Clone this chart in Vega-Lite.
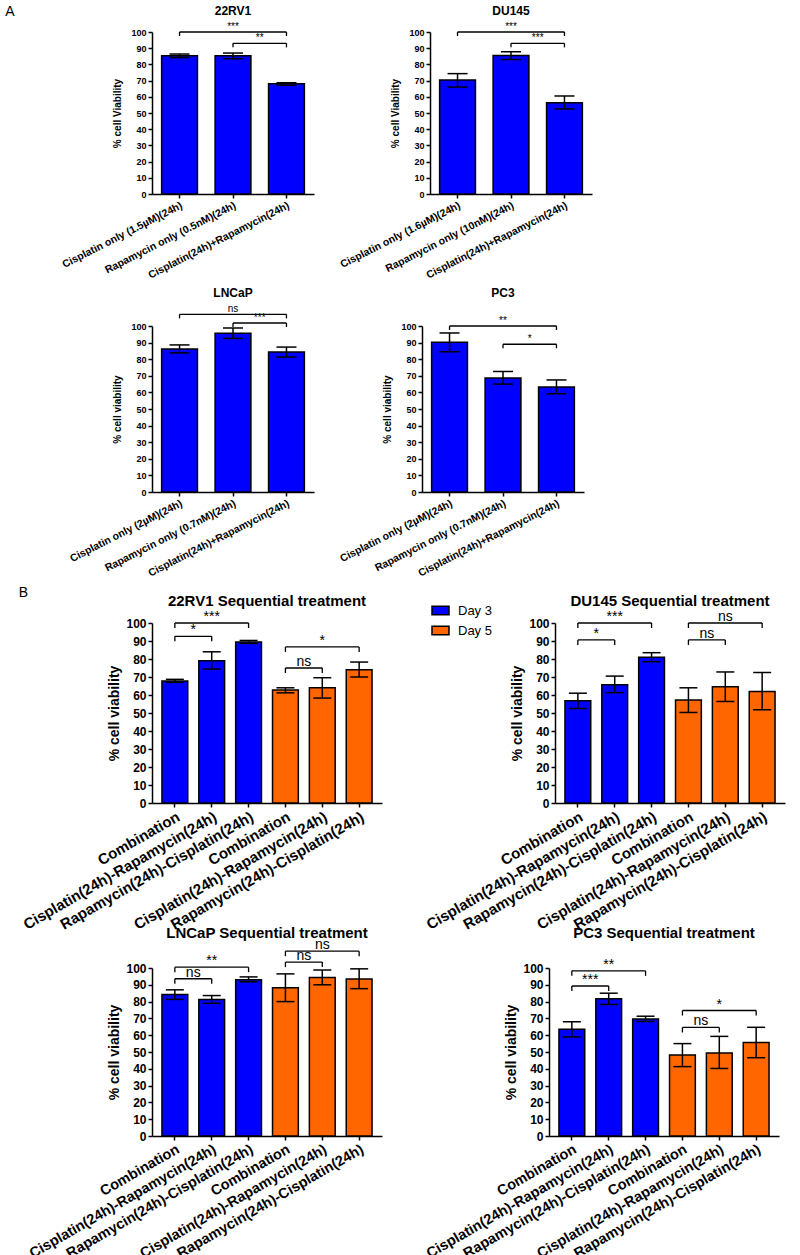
{
"$schema": "https://vega.github.io/schema/vega-lite/v6.json",
"background": "white",
"padding": {"left": 5, "top": 5, "right": 5, "bottom": 5},
"spacing": 7,
"datasets": {
"A1": [
{"kind":"bar","panel":"22RV1","day":"Day 3","cond":"1|Cisplatin only (1.5µM)(24h)","mean":85.3,"lo":84.2,"hi":86.4},
{"kind":"bar","panel":"22RV1","day":"Day 3","cond":"2|Rapamycin only (0.5nM)(24h)","mean":85.3,"lo":83.5,"hi":87},
{"kind":"bar","panel":"22RV1","day":"Day 3","cond":"3|Cisplatin(24h)+Rapamycin(24h)","mean":68,"lo":67.2,"hi":68.7},
{"kind":"sig","panel":"22RV1","from":"1|Cisplatin only (1.5µM)(24h)","to":"3|Cisplatin(24h)+Rapamycin(24h)","mid":"2|Rapamycin only (0.5nM)(24h)","y":100,"label":"***","span":2},
{"kind":"sig","panel":"22RV1","from":"2|Rapamycin only (0.5nM)(24h)","to":"3|Cisplatin(24h)+Rapamycin(24h)","y":93,"label":"**","span":1},
{"kind":"bar","panel":"DU145","day":"Day 3","cond":"1|Cisplatin only (1.6µM)(24h)","mean":70.4,"lo":66,"hi":74.3},
{"kind":"bar","panel":"DU145","day":"Day 3","cond":"2|Rapamycin only (10nM)(24h)","mean":85.5,"lo":83,"hi":87.8},
{"kind":"bar","panel":"DU145","day":"Day 3","cond":"3|Cisplatin(24h)+Rapamycin(24h)","mean":56.3,"lo":52.5,"hi":60.5},
{"kind":"sig","panel":"DU145","from":"1|Cisplatin only (1.6µM)(24h)","to":"3|Cisplatin(24h)+Rapamycin(24h)","mid":"2|Rapamycin only (10nM)(24h)","y":100,"label":"***","span":2},
{"kind":"sig","panel":"DU145","from":"2|Rapamycin only (10nM)(24h)","to":"3|Cisplatin(24h)+Rapamycin(24h)","y":93,"label":"***","span":1}
],
"A2": [
{"kind":"bar","panel":"LNCaP","day":"Day 3","cond":"1|Cisplatin only (2µM)(24h)","mean":86.2,"lo":83.8,"hi":88.6},
{"kind":"bar","panel":"LNCaP","day":"Day 3","cond":"2|Rapamycin only (0.7nM)(24h)","mean":95.7,"lo":92.5,"hi":98.8},
{"kind":"bar","panel":"LNCaP","day":"Day 3","cond":"3|Cisplatin(24h)+Rapamycin(24h)","mean":84.3,"lo":81.3,"hi":87.3},
{"kind":"sig","panel":"LNCaP","from":"1|Cisplatin only (2µM)(24h)","to":"3|Cisplatin(24h)+Rapamycin(24h)","mid":"2|Rapamycin only (0.7nM)(24h)","y":107,"label":"ns","span":2},
{"kind":"sig","panel":"LNCaP","from":"2|Rapamycin only (0.7nM)(24h)","to":"3|Cisplatin(24h)+Rapamycin(24h)","y":101.8,"label":"***","span":1},
{"kind":"bar","panel":"PC3","day":"Day 3","cond":"1|Cisplatin only (2µM)(24h)","mean":90.2,"lo":84.5,"hi":95.8},
{"kind":"bar","panel":"PC3","day":"Day 3","cond":"2|Rapamycin only (0.7nM)(24h)","mean":68.7,"lo":65,"hi":72.6},
{"kind":"bar","panel":"PC3","day":"Day 3","cond":"3|Cisplatin(24h)+Rapamycin(24h)","mean":63.3,"lo":59.2,"hi":67.5},
{"kind":"sig","panel":"PC3","from":"1|Cisplatin only (2µM)(24h)","to":"3|Cisplatin(24h)+Rapamycin(24h)","mid":"2|Rapamycin only (0.7nM)(24h)","y":100,"label":"**","span":2},
{"kind":"sig","panel":"PC3","from":"2|Rapamycin only (0.7nM)(24h)","to":"3|Cisplatin(24h)+Rapamycin(24h)","y":89,"label":"*","span":1}
],
"B1": [
{"kind":"bar","panel":"22RV1 Sequential treatment","day":"Day 3","cond":"1|Combination","mean":67.8,"lo":67,"hi":68.7},
{"kind":"bar","panel":"22RV1 Sequential treatment","day":"Day 3","cond":"2|Cisplatin(24h)-Rapamycin(24h)","mean":79,"lo":74.4,"hi":84},
{"kind":"bar","panel":"22RV1 Sequential treatment","day":"Day 3","cond":"3|Rapamycin(24h)-Cisplatin(24h)","mean":89.5,"lo":88.7,"hi":90.3},
{"kind":"bar","panel":"22RV1 Sequential treatment","day":"Day 5","cond":"4|Combination","mean":62.8,"lo":61.2,"hi":64},
{"kind":"bar","panel":"22RV1 Sequential treatment","day":"Day 5","cond":"5|Cisplatin(24h)-Rapamycin(24h)","mean":64,"lo":58.3,"hi":69.6},
{"kind":"bar","panel":"22RV1 Sequential treatment","day":"Day 5","cond":"6|Rapamycin(24h)-Cisplatin(24h)","mean":74,"lo":70,"hi":78.3},
{"kind":"sig","panel":"22RV1 Sequential treatment","from":"1|Combination","to":"3|Rapamycin(24h)-Cisplatin(24h)","mid":"2|Cisplatin(24h)-Rapamycin(24h)","y":100,"label":"***","span":2},
{"kind":"sig","panel":"22RV1 Sequential treatment","from":"1|Combination","to":"2|Cisplatin(24h)-Rapamycin(24h)","y":92.6,"label":"*","span":1},
{"kind":"sig","panel":"22RV1 Sequential treatment","from":"4|Combination","to":"6|Rapamycin(24h)-Cisplatin(24h)","mid":"5|Cisplatin(24h)-Rapamycin(24h)","y":86.7,"label":"*","span":2},
{"kind":"sig","panel":"22RV1 Sequential treatment","from":"4|Combination","to":"5|Cisplatin(24h)-Rapamycin(24h)","y":75,"label":"ns","span":1},
{"kind":"bar","panel":"DU145 Sequential treatment","day":"Day 3","cond":"1|Combination","mean":56.8,"lo":52.5,"hi":61},
{"kind":"bar","panel":"DU145 Sequential treatment","day":"Day 3","cond":"2|Cisplatin(24h)-Rapamycin(24h)","mean":65.7,"lo":61.3,"hi":70.5},
{"kind":"bar","panel":"DU145 Sequential treatment","day":"Day 3","cond":"3|Rapamycin(24h)-Cisplatin(24h)","mean":81,"lo":78.5,"hi":83.5},
{"kind":"bar","panel":"DU145 Sequential treatment","day":"Day 5","cond":"4|Combination","mean":57.2,"lo":50.3,"hi":64},
{"kind":"bar","panel":"DU145 Sequential treatment","day":"Day 5","cond":"5|Cisplatin(24h)-Rapamycin(24h)","mean":64.6,"lo":56.4,"hi":72.8},
{"kind":"bar","panel":"DU145 Sequential treatment","day":"Day 5","cond":"6|Rapamycin(24h)-Cisplatin(24h)","mean":62,"lo":51.8,"hi":72.5},
{"kind":"sig","panel":"DU145 Sequential treatment","from":"1|Combination","to":"3|Rapamycin(24h)-Cisplatin(24h)","mid":"2|Cisplatin(24h)-Rapamycin(24h)","y":100,"label":"***","span":2},
{"kind":"sig","panel":"DU145 Sequential treatment","from":"1|Combination","to":"2|Cisplatin(24h)-Rapamycin(24h)","y":90.6,"label":"*","span":1},
{"kind":"sig","panel":"DU145 Sequential treatment","from":"4|Combination","to":"6|Rapamycin(24h)-Cisplatin(24h)","mid":"5|Cisplatin(24h)-Rapamycin(24h)","y":100,"label":"ns","span":2},
{"kind":"sig","panel":"DU145 Sequential treatment","from":"4|Combination","to":"5|Cisplatin(24h)-Rapamycin(24h)","y":90.6,"label":"ns","span":1}
],
"B2": [
{"kind":"bar","panel":"LNCaP Sequential treatment","day":"Day 3","cond":"1|Combination","mean":84.2,"lo":81.3,"hi":87},
{"kind":"bar","panel":"LNCaP Sequential treatment","day":"Day 3","cond":"2|Cisplatin(24h)-Rapamycin(24h)","mean":81.3,"lo":79,"hi":83.6},
{"kind":"bar","panel":"LNCaP Sequential treatment","day":"Day 3","cond":"3|Rapamycin(24h)-Cisplatin(24h)","mean":93,"lo":91.8,"hi":94.7},
{"kind":"bar","panel":"LNCaP Sequential treatment","day":"Day 5","cond":"4|Combination","mean":88.3,"lo":80,"hi":96.5},
{"kind":"bar","panel":"LNCaP Sequential treatment","day":"Day 5","cond":"5|Cisplatin(24h)-Rapamycin(24h)","mean":94.4,"lo":90,"hi":98.8},
{"kind":"bar","panel":"LNCaP Sequential treatment","day":"Day 5","cond":"6|Rapamycin(24h)-Cisplatin(24h)","mean":93.5,"lo":87.7,"hi":99.5},
{"kind":"sig","panel":"LNCaP Sequential treatment","from":"1|Combination","to":"3|Rapamycin(24h)-Cisplatin(24h)","mid":"2|Cisplatin(24h)-Rapamycin(24h)","y":100.5,"label":"**","span":2},
{"kind":"sig","panel":"LNCaP Sequential treatment","from":"1|Combination","to":"2|Cisplatin(24h)-Rapamycin(24h)","y":93.6,"label":"ns","span":1},
{"kind":"sig","panel":"LNCaP Sequential treatment","from":"4|Combination","to":"6|Rapamycin(24h)-Cisplatin(24h)","mid":"5|Cisplatin(24h)-Rapamycin(24h)","y":110,"label":"ns","span":2},
{"kind":"sig","panel":"LNCaP Sequential treatment","from":"4|Combination","to":"5|Cisplatin(24h)-Rapamycin(24h)","y":103.5,"label":"ns","span":1},
{"kind":"bar","panel":"PC3 Sequential treatment","day":"Day 3","cond":"1|Combination","mean":63.5,"lo":59,"hi":68},
{"kind":"bar","panel":"PC3 Sequential treatment","day":"Day 3","cond":"2|Cisplatin(24h)-Rapamycin(24h)","mean":81.7,"lo":78.3,"hi":85},
{"kind":"bar","panel":"PC3 Sequential treatment","day":"Day 3","cond":"3|Rapamycin(24h)-Cisplatin(24h)","mean":69.7,"lo":68.2,"hi":71.3},
{"kind":"bar","panel":"PC3 Sequential treatment","day":"Day 5","cond":"4|Combination","mean":48.2,"lo":41.3,"hi":55},
{"kind":"bar","panel":"PC3 Sequential treatment","day":"Day 5","cond":"5|Cisplatin(24h)-Rapamycin(24h)","mean":49.4,"lo":40.2,"hi":59.3},
{"kind":"bar","panel":"PC3 Sequential treatment","day":"Day 5","cond":"6|Rapamycin(24h)-Cisplatin(24h)","mean":55.6,"lo":46.6,"hi":64.7},
{"kind":"sig","panel":"PC3 Sequential treatment","from":"1|Combination","to":"3|Rapamycin(24h)-Cisplatin(24h)","mid":"2|Cisplatin(24h)-Rapamycin(24h)","y":98.3,"label":"**","span":2},
{"kind":"sig","panel":"PC3 Sequential treatment","from":"1|Combination","to":"2|Cisplatin(24h)-Rapamycin(24h)","y":89.3,"label":"***","span":1},
{"kind":"sig","panel":"PC3 Sequential treatment","from":"4|Combination","to":"6|Rapamycin(24h)-Cisplatin(24h)","mid":"5|Cisplatin(24h)-Rapamycin(24h)","y":74.7,"label":"*","span":2},
{"kind":"sig","panel":"PC3 Sequential treatment","from":"4|Combination","to":"5|Cisplatin(24h)-Rapamycin(24h)","y":64.6,"label":"ns","span":1}
]
},
"vconcat": [
{
"title": {"text": "A", "anchor": "start", "frame": "bounds", "fontSize": 14, "fontWeight": "normal", "font": "Liberation Sans", "offset": -14, "dx": -55},
"spacing": 6,
"vconcat": [
{
"data": {"name": "A1"},
"facet": {"column": {"field": "panel", "type": "nominal", "sort": ["22RV1", "DU145"], "title": null, "header": {"labelFontSize": 12, "labelFontWeight": "bold", "labelFont": "Liberation Sans", "labelColor": "black", "labelPadding": 4}}},
"spacing": {"column": 24},
"resolve": {"scale": {"x": "independent", "y": "independent"}, "axis": {"x": "independent", "y": "independent"}},
"spec": {"width": 162, "height": 162, "layer": [
{"transform": [{"filter": "datum.kind=='bar'"}], "mark": {"type": "bar", "stroke": "black", "strokeWidth": 1.5},
 "encoding": {
  "x": {"field": "cond", "type": "nominal", "sort": "ascending", "scale": {"paddingInner": 0.33, "paddingOuter": 0.18}, "axis": {"title": null, "labelExpr": "split(datum.value,'|')[1]", "labelAngle": -27, "labelFontSize": 10.5, "labelLimit": 400, "tickSize": 4, "labelPadding": 2}},
  "y": {"field": "mean", "type": "quantitative", "scale": {"domain": [0, 100], "nice": false}, "axis": {"title": "% cell Viability", "values": [0,10,20,30,40,50,60,70,80,90,100], "tickCount": 20, "labelOverlap": false, "labelFontSize": 9, "titleFontSize": 10, "titleFontWeight": "bold", "tickSize": 4, "titlePadding": 8}},
  "color": {"field": "day", "type": "nominal", "scale": {"domain": ["Day 3", "Day 5"], "range": ["#0000FF", "#FF6600"]}, "legend": {"orient": "none", "legendX": 279, "legendY": 569, "title": null, "symbolType": "M-1,-0.5H1V0.5H-1Z", "symbolSize": 289, "symbolStrokeColor": "black", "symbolStrokeWidth": 1.5, "labelFontSize": 13, "labelFont": "Liberation Sans", "labelColor": "black", "rowPadding": 3, "labelOffset": 8}}}},
{"transform": [{"filter": "datum.kind=='bar'"}], "mark": {"type": "rule", "color": "black", "strokeWidth": 1.5}, "encoding": {"x": {"field": "cond", "type": "nominal"}, "y": {"field": "lo", "type": "quantitative"}, "y2": {"field": "hi"}}},
{"transform": [{"filter": "datum.kind=='bar'"}], "mark": {"type": "tick", "color": "black", "thickness": 1.5, "size": 20, "opacity": 1}, "encoding": {"x": {"field": "cond", "type": "nominal"}, "y": {"field": "lo", "type": "quantitative"}}},
{"transform": [{"filter": "datum.kind=='bar'"}], "mark": {"type": "tick", "color": "black", "thickness": 1.5, "size": 20, "opacity": 1}, "encoding": {"x": {"field": "cond", "type": "nominal"}, "y": {"field": "hi", "type": "quantitative"}}},
{"transform": [{"filter": "datum.kind=='sig'"}], "mark": {"type": "rule", "color": "black", "strokeWidth": 1.3}, "encoding": {"x": {"field": "from", "type": "nominal"}, "x2": {"field": "to"}, "y": {"field": "y", "type": "quantitative"}}},
{"transform": [{"filter": "datum.kind=='sig'"}], "mark": {"type": "point", "shape": "M0,0L0,1", "size": 64, "filled": false, "color": "black", "strokeWidth": 1.3, "opacity": 1}, "encoding": {"x": {"field": "from", "type": "nominal"}, "y": {"field": "y", "type": "quantitative"}}},
{"transform": [{"filter": "datum.kind=='sig'"}], "mark": {"type": "point", "shape": "M0,0L0,1", "size": 64, "filled": false, "color": "black", "strokeWidth": 1.3, "opacity": 1}, "encoding": {"x": {"field": "to", "type": "nominal"}, "y": {"field": "y", "type": "quantitative"}}},
{"transform": [{"filter": "datum.kind=='sig' && datum.span==2"}], "mark": {"type": "text", "font": "Liberation Sans", "fontSize": 10, "baseline": "alphabetic", "dy": -2, "color": "black"}, "encoding": {"x": {"field": "mid", "type": "nominal"}, "y": {"field": "y", "type": "quantitative"}, "text": {"field": "label"}}},
{"transform": [{"filter": "datum.kind=='sig' && datum.span==1"}], "mark": {"type": "text", "font": "Liberation Sans", "fontSize": 10, "baseline": "alphabetic", "dy": -2, "dx": 26.7, "color": "black"}, "encoding": {"x": {"field": "from", "type": "nominal"}, "y": {"field": "y", "type": "quantitative"}, "text": {"field": "label"}}}
]}
},
{
"data": {"name": "A2"},
"facet": {"column": {"field": "panel", "type": "nominal", "sort": ["LNCaP", "PC3"], "title": null, "header": {"labelFontSize": 12, "labelFontWeight": "bold", "labelFont": "Liberation Sans", "labelColor": "black", "labelPadding": 4}}},
"spacing": {"column": 24},
"resolve": {"scale": {"x": "independent", "y": "independent"}, "axis": {"x": "independent", "y": "independent"}},
"spec": {"width": 162, "height": 166, "layer": [
{"transform": [{"filter": "datum.kind=='bar'"}], "mark": {"type": "bar", "stroke": "black", "strokeWidth": 1.5},
 "encoding": {
  "x": {"field": "cond", "type": "nominal", "sort": "ascending", "scale": {"paddingInner": 0.33, "paddingOuter": 0.18}, "axis": {"title": null, "labelExpr": "split(datum.value,'|')[1]", "labelAngle": -27, "labelFontSize": 10.5, "labelLimit": 400, "tickSize": 4, "labelPadding": 2}},
  "y": {"field": "mean", "type": "quantitative", "scale": {"domain": [0, 100], "nice": false}, "axis": {"title": "% cell viability", "values": [0,10,20,30,40,50,60,70,80,90,100], "tickCount": 20, "labelOverlap": false, "labelFontSize": 9, "titleFontSize": 10, "titleFontWeight": "bold", "tickSize": 4, "titlePadding": 8}},
  "color": {"field": "day", "type": "nominal", "scale": {"domain": ["Day 3", "Day 5"], "range": ["#0000FF", "#FF6600"]}, "legend": {"orient": "none", "legendX": 279, "legendY": 569, "title": null, "symbolType": "M-1,-0.5H1V0.5H-1Z", "symbolSize": 289, "symbolStrokeColor": "black", "symbolStrokeWidth": 1.5, "labelFontSize": 13, "labelFont": "Liberation Sans", "labelColor": "black", "rowPadding": 3, "labelOffset": 8}}}},
{"transform": [{"filter": "datum.kind=='bar'"}], "mark": {"type": "rule", "color": "black", "strokeWidth": 1.5}, "encoding": {"x": {"field": "cond", "type": "nominal"}, "y": {"field": "lo", "type": "quantitative"}, "y2": {"field": "hi"}}},
{"transform": [{"filter": "datum.kind=='bar'"}], "mark": {"type": "tick", "color": "black", "thickness": 1.5, "size": 20, "opacity": 1}, "encoding": {"x": {"field": "cond", "type": "nominal"}, "y": {"field": "lo", "type": "quantitative"}}},
{"transform": [{"filter": "datum.kind=='bar'"}], "mark": {"type": "tick", "color": "black", "thickness": 1.5, "size": 20, "opacity": 1}, "encoding": {"x": {"field": "cond", "type": "nominal"}, "y": {"field": "hi", "type": "quantitative"}}},
{"transform": [{"filter": "datum.kind=='sig'"}], "mark": {"type": "rule", "color": "black", "strokeWidth": 1.3}, "encoding": {"x": {"field": "from", "type": "nominal"}, "x2": {"field": "to"}, "y": {"field": "y", "type": "quantitative"}}},
{"transform": [{"filter": "datum.kind=='sig'"}], "mark": {"type": "point", "shape": "M0,0L0,1", "size": 64, "filled": false, "color": "black", "strokeWidth": 1.3, "opacity": 1}, "encoding": {"x": {"field": "from", "type": "nominal"}, "y": {"field": "y", "type": "quantitative"}}},
{"transform": [{"filter": "datum.kind=='sig'"}], "mark": {"type": "point", "shape": "M0,0L0,1", "size": 64, "filled": false, "color": "black", "strokeWidth": 1.3, "opacity": 1}, "encoding": {"x": {"field": "to", "type": "nominal"}, "y": {"field": "y", "type": "quantitative"}}},
{"transform": [{"filter": "datum.kind=='sig' && datum.span==2"}], "mark": {"type": "text", "font": "Liberation Sans", "fontSize": 10, "baseline": "alphabetic", "dy": -2, "color": "black"}, "encoding": {"x": {"field": "mid", "type": "nominal"}, "y": {"field": "y", "type": "quantitative"}, "text": {"field": "label"}}},
{"transform": [{"filter": "datum.kind=='sig' && datum.span==1"}], "mark": {"type": "text", "font": "Liberation Sans", "fontSize": 10, "baseline": "alphabetic", "dy": -2, "dx": 26.7, "color": "black"}, "encoding": {"x": {"field": "from", "type": "nominal"}, "y": {"field": "y", "type": "quantitative"}, "text": {"field": "label"}}}
]}
}
]
},
{
"title": {"text": "B", "anchor": "start", "frame": "bounds", "fontSize": 14, "fontWeight": "normal", "font": "Liberation Sans", "offset": -6, "dx": -2},
"spacing": -7,
"vconcat": [
{
"data": {"name": "B1"},
"facet": {"column": {"field": "panel", "type": "nominal", "sort": ["22RV1 Sequential treatment", "DU145 Sequential treatment"], "title": null, "header": {"labelFontSize": 15, "labelFontWeight": "bold", "labelFont": "Liberation Sans", "labelColor": "black", "labelPadding": 1}}},
"spacing": {"column": 41},
"resolve": {"scale": {"x": "independent", "y": "independent"}, "axis": {"x": "independent", "y": "independent"}},
"spec": {"width": 230, "height": 180, "layer": [
{"transform": [{"filter": "datum.kind=='bar'"}], "mark": {"type": "bar", "stroke": "black", "strokeWidth": 1.5},
 "encoding": {
  "x": {"field": "cond", "type": "nominal", "sort": "ascending", "scale": {"paddingInner": 0.3, "paddingOuter": 0.27}, "axis": {"title": null, "labelExpr": "split(datum.value,'|')[1]", "labelAngle": -30, "labelFontSize": 15, "labelLimit": 400, "tickSize": 4, "labelPadding": 2}},
  "y": {"field": "mean", "type": "quantitative", "scale": {"domain": [0, 100], "nice": false}, "axis": {"title": "% cell viability", "values": [0,10,20,30,40,50,60,70,80,90,100], "tickCount": 20, "labelOverlap": false, "labelFontSize": 12, "titleFontSize": 14, "titleFontWeight": "bold", "tickSize": 4, "titlePadding": 4}},
  "color": {"field": "day", "type": "nominal", "scale": {"domain": ["Day 3", "Day 5"], "range": ["#0000FF", "#FF6600"]}, "legend": {"orient": "none", "legendX": 279, "legendY": 569, "title": null, "symbolType": "M-1,-0.5H1V0.5H-1Z", "symbolSize": 289, "symbolStrokeColor": "black", "symbolStrokeWidth": 1.5, "labelFontSize": 13, "labelFont": "Liberation Sans", "labelColor": "black", "rowPadding": 3, "labelOffset": 8}}}},
{"transform": [{"filter": "datum.kind=='bar'"}], "mark": {"type": "rule", "color": "black", "strokeWidth": 1.5}, "encoding": {"x": {"field": "cond", "type": "nominal"}, "y": {"field": "lo", "type": "quantitative"}, "y2": {"field": "hi"}}},
{"transform": [{"filter": "datum.kind=='bar'"}], "mark": {"type": "tick", "color": "black", "thickness": 1.5, "size": 18, "opacity": 1}, "encoding": {"x": {"field": "cond", "type": "nominal"}, "y": {"field": "lo", "type": "quantitative"}}},
{"transform": [{"filter": "datum.kind=='bar'"}], "mark": {"type": "tick", "color": "black", "thickness": 1.5, "size": 18, "opacity": 1}, "encoding": {"x": {"field": "cond", "type": "nominal"}, "y": {"field": "hi", "type": "quantitative"}}},
{"transform": [{"filter": "datum.kind=='sig'"}], "mark": {"type": "rule", "color": "black", "strokeWidth": 1.3}, "encoding": {"x": {"field": "from", "type": "nominal"}, "x2": {"field": "to"}, "y": {"field": "y", "type": "quantitative"}}},
{"transform": [{"filter": "datum.kind=='sig'"}], "mark": {"type": "point", "shape": "M0,0L0,1", "size": 100, "filled": false, "color": "black", "strokeWidth": 1.3, "opacity": 1}, "encoding": {"x": {"field": "from", "type": "nominal"}, "y": {"field": "y", "type": "quantitative"}}},
{"transform": [{"filter": "datum.kind=='sig'"}], "mark": {"type": "point", "shape": "M0,0L0,1", "size": 100, "filled": false, "color": "black", "strokeWidth": 1.3, "opacity": 1}, "encoding": {"x": {"field": "to", "type": "nominal"}, "y": {"field": "y", "type": "quantitative"}}},
{"transform": [{"filter": "datum.kind=='sig' && datum.span==2"}], "mark": {"type": "text", "font": "Liberation Sans", "fontSize": 14, "baseline": "alphabetic", "dy": -2, "color": "black"}, "encoding": {"x": {"field": "mid", "type": "nominal"}, "y": {"field": "y", "type": "quantitative"}, "text": {"field": "label"}}},
{"transform": [{"filter": "datum.kind=='sig' && datum.span==1"}], "mark": {"type": "text", "font": "Liberation Sans", "fontSize": 14, "baseline": "alphabetic", "dy": -2, "dx": 18.4, "color": "black"}, "encoding": {"x": {"field": "from", "type": "nominal"}, "y": {"field": "y", "type": "quantitative"}, "text": {"field": "label"}}}
]}
},
{
"data": {"name": "B2"},
"facet": {"column": {"field": "panel", "type": "nominal", "sort": ["LNCaP Sequential treatment", "PC3 Sequential treatment"], "title": null, "header": {"labelFontSize": 15, "labelFontWeight": "bold", "labelFont": "Liberation Sans", "labelColor": "black", "labelPadding": -3}}},
"spacing": {"column": 41},
"resolve": {"scale": {"x": "independent", "y": "independent"}, "axis": {"x": "independent", "y": "independent"}},
"spec": {"width": 230, "height": 168, "layer": [
{"transform": [{"filter": "datum.kind=='bar'"}], "mark": {"type": "bar", "stroke": "black", "strokeWidth": 1.5},
 "encoding": {
  "x": {"field": "cond", "type": "nominal", "sort": "ascending", "scale": {"paddingInner": 0.3, "paddingOuter": 0.27}, "axis": {"title": null, "labelExpr": "split(datum.value,'|')[1]", "labelAngle": -30, "labelFontSize": 14.5, "labelLimit": 400, "tickSize": 4, "labelPadding": 2}},
  "y": {"field": "mean", "type": "quantitative", "scale": {"domain": [0, 100], "nice": false}, "axis": {"title": "% cell viability", "values": [0,10,20,30,40,50,60,70,80,90,100], "tickCount": 20, "labelOverlap": false, "labelFontSize": 12, "titleFontSize": 14, "titleFontWeight": "bold", "tickSize": 4, "titlePadding": 4}},
  "color": {"field": "day", "type": "nominal", "scale": {"domain": ["Day 3", "Day 5"], "range": ["#0000FF", "#FF6600"]}, "legend": {"orient": "none", "legendX": 279, "legendY": 569, "title": null, "symbolType": "M-1,-0.5H1V0.5H-1Z", "symbolSize": 289, "symbolStrokeColor": "black", "symbolStrokeWidth": 1.5, "labelFontSize": 13, "labelFont": "Liberation Sans", "labelColor": "black", "rowPadding": 3, "labelOffset": 8}}}},
{"transform": [{"filter": "datum.kind=='bar'"}], "mark": {"type": "rule", "color": "black", "strokeWidth": 1.5}, "encoding": {"x": {"field": "cond", "type": "nominal"}, "y": {"field": "lo", "type": "quantitative"}, "y2": {"field": "hi"}}},
{"transform": [{"filter": "datum.kind=='bar'"}], "mark": {"type": "tick", "color": "black", "thickness": 1.5, "size": 18, "opacity": 1}, "encoding": {"x": {"field": "cond", "type": "nominal"}, "y": {"field": "lo", "type": "quantitative"}}},
{"transform": [{"filter": "datum.kind=='bar'"}], "mark": {"type": "tick", "color": "black", "thickness": 1.5, "size": 18, "opacity": 1}, "encoding": {"x": {"field": "cond", "type": "nominal"}, "y": {"field": "hi", "type": "quantitative"}}},
{"transform": [{"filter": "datum.kind=='sig'"}], "mark": {"type": "rule", "color": "black", "strokeWidth": 1.3}, "encoding": {"x": {"field": "from", "type": "nominal"}, "x2": {"field": "to"}, "y": {"field": "y", "type": "quantitative"}}},
{"transform": [{"filter": "datum.kind=='sig'"}], "mark": {"type": "point", "shape": "M0,0L0,1", "size": 100, "filled": false, "color": "black", "strokeWidth": 1.3, "opacity": 1}, "encoding": {"x": {"field": "from", "type": "nominal"}, "y": {"field": "y", "type": "quantitative"}}},
{"transform": [{"filter": "datum.kind=='sig'"}], "mark": {"type": "point", "shape": "M0,0L0,1", "size": 100, "filled": false, "color": "black", "strokeWidth": 1.3, "opacity": 1}, "encoding": {"x": {"field": "to", "type": "nominal"}, "y": {"field": "y", "type": "quantitative"}}},
{"transform": [{"filter": "datum.kind=='sig' && datum.span==2"}], "mark": {"type": "text", "font": "Liberation Sans", "fontSize": 14, "baseline": "alphabetic", "dy": -2, "color": "black"}, "encoding": {"x": {"field": "mid", "type": "nominal"}, "y": {"field": "y", "type": "quantitative"}, "text": {"field": "label"}}},
{"transform": [{"filter": "datum.kind=='sig' && datum.span==1"}], "mark": {"type": "text", "font": "Liberation Sans", "fontSize": 14, "baseline": "alphabetic", "dy": -2, "dx": 18.4, "color": "black"}, "encoding": {"x": {"field": "from", "type": "nominal"}, "y": {"field": "y", "type": "quantitative"}, "text": {"field": "label"}}}
]}
}
]
}
],
"config": {
"view": {"stroke": null},
"axis": {"domainColor": "black", "tickColor": "black", "labelColor": "black", "titleColor": "black", "labelFont": "Liberation Sans", "titleFont": "Liberation Sans", "labelFontWeight": "bold", "grid": false, "domainWidth": 1.5, "tickWidth": 1.5},
"axisY": {"labelOverlap": false, "tickCount": 20}
}
}
